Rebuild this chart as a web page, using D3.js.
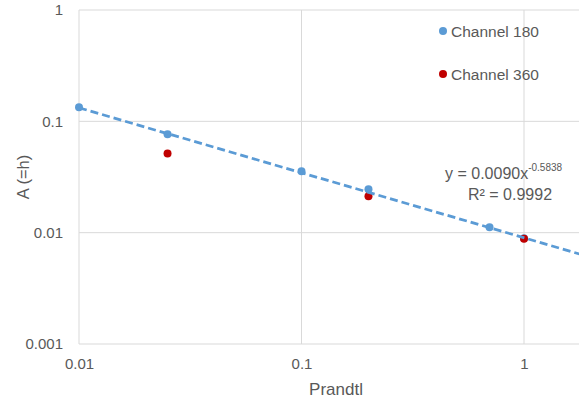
<!DOCTYPE html>
<html>
<head>
<meta charset="utf-8">
<script src="https://cdn.jsdelivr.net/npm/d3@7"></script>
<style>
  body { margin: 0; background: #fff; }
  svg { display: block; font-family: "Liberation Sans", Arial, Helvetica, sans-serif; }
</style>
</head>
<body>
<svg id="chart"></svg>
<script>
// Channel 180 (blue) and Channel 360 (red)
const prandtl180 = [0.01, 0.025, 0.1, 0.2, 0.7, 1];
const value180 = [0.134, 0.0765, 0.0357, 0.0245, 0.0112, 0.0089];
const prandtl360 = [0.025, 0.2, 1];
const value360 = [0.0515, 0.0212, 0.0088];

const seriesNames = ["Channel 180", "Channel 360"];
const xTicks = [0.01, 0.1, 1];
const xTickLabels = ["0.01", "0.1", "1"];
const yTicks = [0.001, 0.01, 0.1, 1];
const yTickLabels = ["0.001", "0.01", "0.1", "1"];

// power trendline shown on the chart
const trendA = 0.0090, trendB = -0.5838, trendR2 = "0.9992";

const width = 579, height = 403;
const plot = { left: 79, top: 10, bottom: 344, decade: 222.5 };

const svg = d3.select("#chart")
    .attr("width", width)
    .attr("height", height);

const x = d3.scaleLog()
    .domain([0.01, 10])
    .range([plot.left, plot.left + 3 * plot.decade]);

const y = d3.scaleLog()
    .domain([0.001, 1])
    .range([plot.bottom, plot.top]);

svg.append("defs").append("clipPath")
    .attr("id", "plotClip")
    .append("rect")
    .attr("x", plot.left)
    .attr("y", plot.top - 5)
    .attr("width", width - plot.left)
    .attr("height", plot.bottom - plot.top + 10);

// gridlines
const gridColor = "#d9d9d9";
svg.append("g")
    .selectAll("line")
    .data(yTicks)
    .join("line")
    .attr("x1", plot.left)
    .attr("x2", width)
    .attr("y1", d => y(d))
    .attr("y2", d => y(d))
    .attr("stroke", gridColor)
    .attr("stroke-width", 1);

svg.append("g")
    .selectAll("line")
    .data(xTicks)
    .join("line")
    .attr("x1", d => x(d))
    .attr("x2", d => x(d))
    .attr("y1", plot.top)
    .attr("y2", plot.bottom)
    .attr("stroke", gridColor)
    .attr("stroke-width", 1);

// axes (labels only)
const textColor = "#595959";
const xAxis = svg.append("g")
    .attr("transform", `translate(0,${plot.bottom})`)
    .call(d3.axisBottom(x).tickValues(xTicks).tickSize(0).tickPadding(14)
        .tickFormat((d, i) => xTickLabels[i]));
xAxis.select(".domain").remove();
xAxis.selectAll("text")
    .attr("fill", textColor)
    .style("font-size", "15px")
    .style("font-family", "'Liberation Sans', Arial, sans-serif");

const yAxis = svg.append("g")
    .attr("transform", `translate(${plot.left},0)`)
    .call(d3.axisLeft(y).tickValues(yTicks).tickSize(0).tickPadding(16)
        .tickFormat((d, i) => yTickLabels[i]));
yAxis.select(".domain").remove();
yAxis.selectAll("text")
    .attr("fill", textColor)
    .style("font-size", "15px")
    .style("font-family", "'Liberation Sans', Arial, sans-serif");

// axis titles
svg.append("text")
    .attr("x", 336)
    .attr("y", 395)
    .attr("text-anchor", "middle")
    .attr("fill", textColor)
    .attr("font-size", "17px")
    .text("Prandtl");

svg.append("text")
    .attr("transform", "rotate(-90)")
    .attr("x", -(plot.top + plot.bottom) / 2)
    .attr("y", 29)
    .attr("text-anchor", "middle")
    .attr("fill", textColor)
    .attr("font-size", "16.5px")
    .text("A (=h)");

// markers
const blue = "#5b9bd5", red = "#c00000";
const data180 = prandtl180.map((p, i) => ({ p, v: value180[i] }));
const data360 = prandtl360.map((p, i) => ({ p, v: value360[i] }));

svg.append("g")
    .selectAll("circle")
    .data(data180)
    .join("circle")
    .attr("cx", d => x(d.p))
    .attr("cy", d => y(d.v))
    .attr("r", 4)
    .attr("fill", blue);

svg.append("g")
    .selectAll("circle")
    .data(data360)
    .join("circle")
    .attr("cx", d => x(d.p))
    .attr("cy", d => y(d.v))
    .attr("r", 4)
    .attr("fill", red);

// trendline
const trendEnds = x.domain().map(p => ({ p, v: trendA * Math.pow(p, trendB) }));
svg.append("path")
    .datum(trendEnds)
    .attr("clip-path", "url(#plotClip)")
    .attr("d", d3.line().x(d => x(d.p)).y(d => y(d.v)))
    .attr("fill", "none")
    .attr("stroke", blue)
    .attr("stroke-width", 2.75)
    .attr("stroke-dasharray", "8,4");

// legend
const legend = svg.append("g");
const legendColors = [blue, red];
const legendY = [31, 74];
seriesNames.forEach((name, i) => {
    legend.append("circle")
        .attr("cx", 443)
        .attr("cy", legendY[i])
        .attr("r", 4)
        .attr("fill", legendColors[i]);
    legend.append("text")
        .attr("x", 451)
        .attr("y", legendY[i] + 5.5)
        .attr("fill", textColor)
        .attr("font-size", "15.5px")
        .text(name);
});

// equation
const eq = svg.append("text")
    .attr("x", 445)
    .attr("y", 179)
    .attr("fill", textColor)
    .attr("font-size", "16px");
eq.append("tspan").text(`y = ${trendA.toFixed(4)}x`);
eq.append("tspan")
    .attr("dy", -8)
    .attr("font-size", "10px")
    .text(trendB.toFixed(4));

svg.append("text")
    .attr("x", 510)
    .attr("y", 200)
    .attr("text-anchor", "middle")
    .attr("fill", textColor)
    .attr("font-size", "16px")
    .text(`R² = ${trendR2}`);
</script>
</body>
</html>
